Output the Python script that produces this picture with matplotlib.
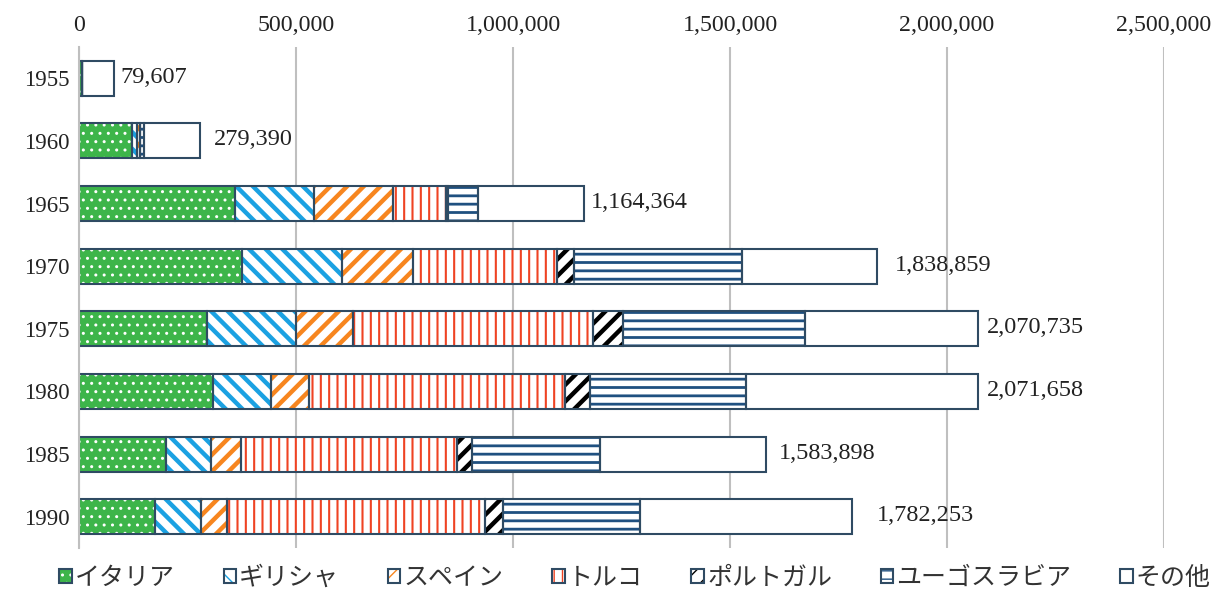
import matplotlib
matplotlib.use("Agg")
import matplotlib.pyplot as plt
import numpy as np
from matplotlib.patches import Patch
from matplotlib.legend_handler import HandlerTuple
from matplotlib.transforms import offset_copy

years = ["1955", "1960", "1965", "1970", "1975", "1980", "1985", "1990"]
series_names = ["イタリア", "ギリシャ", "スペイン", "トルコ", "ポルトガル", "ユーゴスラビア", "その他"]
italy = [7461, 121685, 359800, 375000, 294500, 309000, 201000, 174000]
greece = [0, 11500, 181600, 230500, 205000, 133000, 103000, 106000]
spain = [0, 7700, 181000, 165000, 131000, 87500, 69000, 60500]
turkey = [0, 0, 123700, 331000, 553000, 590000, 498000, 595000]
portugal = [0, 0, 4000, 39000, 71000, 58000, 34500, 42000]
yugoslavia = [0, 9000, 70000, 387000, 419000, 359000, 295000, 315000]
totals = [79607, 279390, 1164364, 1838859, 2070735, 2071658, 1583898, 1782253]
total_labels = ["79,607", "279,390", "1,164,364", "1,838,859", "2,070,735", "2,071,658", "1,583,898", "1,782,253"]
xticks = [0, 500000, 1000000, 1500000, 2000000, 2500000]
xtick_labels = ["0", "500,000", "1,000,000", "1,500,000", "2,000,000", "2,500,000"]

known = [italy, greece, spain, turkey, portugal, yugoslavia]
others = [t - sum(col) for t, col in zip(totals, zip(*known))]
data = known + [others]

# styles
fills = ["#3DB54A", "white", "white", "white", "white", "white", "white"]
hatch_colors = ["white", "#1BA1E2", "#F7861F", "#EF4323", "black", "#1F5080", "white"]
hatches = ["..", "\\\\", "//", "||", "//", "--", ""]
hatch_lws = [1.0, 3.2, 3.2, 1.5, 3.2, 2.0, 1.0]
border = "#2F4B63"
label_pad = [7, 14, 7, 18, 9, 9, 12, 24]  # pixels

plt.rcParams['font.family'] = ['Liberation Serif', 'Noto Sans CJK JP', 'DejaVu Sans']

fig = plt.figure(figsize=(12.22, 5.93), dpi=100)
ax = fig.add_axes([79/1222, 1-548/593, (1164-79)/1222, (548-47)/593])

y = np.arange(len(years))
left = np.zeros(len(years))
handles = []
for i, vals in enumerate(data):
    vals = np.array(vals, dtype=float)
    bars = ax.barh(y, vals, left=left, height=0.56, color=fills[i],
                   edgecolor=hatch_colors[i], hatch=hatches[i], linewidth=0, zorder=2)
    for p in bars:
        if hasattr(p, "set_hatch_linewidth"):
            p.set_hatch_linewidth(hatch_lws[i])
    ax.barh(y, vals, left=left, height=0.56, fill=False, edgecolor=border,
            linewidth=1.5, zorder=3)
    h1 = Patch(facecolor=fills[i], edgecolor=hatch_colors[i], hatch=hatches[i], linewidth=0)
    if hasattr(h1, "set_hatch_linewidth"):
        h1.set_hatch_linewidth(hatch_lws[i])
    h2 = Patch(fill=False, edgecolor=border, linewidth=1.5)
    handles.append((h1, h2))
    left = left + vals

for i, (t, lab) in enumerate(zip(totals, total_labels)):
    tr = offset_copy(ax.transData, fig=fig, x=label_pad[i], y=1, units='dots')
    ax.text(t, y[i], lab, transform=tr, va='center', ha='left', fontsize=17.5,
            family='Liberation Serif', color='#222222')

ax.set_xlim(0, 2500000)
ax.set_ylim(len(years) - 0.5, -0.5)
ax.set_xticks(xticks)
ax.set_xticklabels(xtick_labels)
ax.set_yticks(y)
ax.set_yticklabels(years)
ax.xaxis.tick_top()
ax.tick_params(axis='both', length=0, colors='#222222')
ax.tick_params(axis='x', pad=8, labelsize=17.2)
ax.tick_params(axis='y', pad=6.5, labelsize=16.5)
ax.grid(axis='x', color='#BFBFBF', linewidth=1.5, zorder=0)
ax.set_axisbelow(True)
for s in ['top', 'right', 'bottom']:
    ax.spines[s].set_visible(False)
ax.spines['left'].set_color('#BFBFBF')
ax.spines['left'].set_linewidth(1.5)
ax.spines['left'].set_zorder(4)

leg = fig.legend(handles, series_names, loc='center', bbox_to_anchor=(635/1222, 1-578/593),
                 ncol=7, frameon=False, handler_map={tuple: HandlerTuple(ndivide=1)},
                 handlelength=0.5, handleheight=0.5, handletextpad=0.12,
                 columnspacing=1.95,
                 prop={'family': ['Noto Sans CJK JP', 'DejaVu Sans'], 'size': 18})
for txt in leg.get_texts():
    txt.set_color('#333333')

fig.savefig("out.png", dpi=100)
